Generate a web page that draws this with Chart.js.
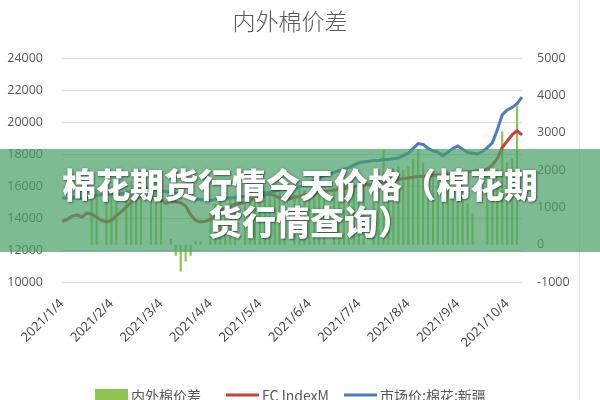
<!DOCTYPE html>
<html><head><meta charset="utf-8">
<script src="https://cdn.jsdelivr.net/npm/chart.js@4.4.0/dist/chart.umd.min.js"></script>
<style>
html,body{margin:0;padding:0;background:#fff;}
#wrap{position:relative;width:600px;height:400px;overflow:hidden;background:#fff;}
#title{position:absolute;left:0;top:5px;width:580px;text-align:center;font-family:'Noto Sans CJK SC',sans-serif;font-weight:300;font-size:23px;color:#595959;line-height:30px;}
#banner{position:absolute;left:0;top:149px;width:600px;height:103px;background:rgba(70,160,100,0.7);color:#fff;text-align:center;font-family:'Noto Sans CJK SC',sans-serif;font-weight:900;font-size:34px;line-height:37px;padding-top:16px;box-sizing:border-box;text-shadow:1px 1px 2px rgba(0,0,0,0.45),0 0 3px rgba(0,0,0,0.25);}
#edge{position:absolute;left:579px;top:0;width:1px;height:400px;background:#e3e3e3;}
</style></head>
<body><div id="wrap"><canvas id="c" width="600" height="400"></canvas>
<div id="title">内外棉价差</div>
<div id="edge"></div>
<div id="banner">棉花期货行情今天价格（棉花期<br><span style="position:relative;left:10px">货行情查询）</span></div>
</div>
<script>
// categories: trading dates (about every 3 days), month ticks on the 4th
const months = [1,2,3,4,5,6,7,8,9,10];
const days = [4,7,10,13,16,19,21,24,26,28];
const octDays = [4,7,10,13];
const categories = [];
months.forEach(m => (m === 10 ? octDays : days).forEach(d => categories.push('2021/' + m + '/' + d)));

// 内外棉价差 (right axis)
const spread = [
  null,null,null,null,null,null,1500,1450,null,1600,
  1550,1300,null,1500,1700,1800,1850,null,1700,1650,
  1600,null,150,-300,-720,-450,-300,100,80,null,
  900,1100,1200,1000,1300,1250,null,1100,1300,1400,
  1350,1450,1300,1500,1400,1200,null,1350,1500,1450,
  1400,1550,1600,1450,null,1500,1700,1650,1550,1600,
  1650,1700,null,1750,1800,2550,1900,2050,2100,2000,
  2100,2300,2550,2200,1950,1800,1700,1500,1600,1450,
  1400,1300,1100,830,null,null,1950,1800,2000,3030,
  2200,2300,3700,null
];
// FC IndexM (left axis)
const fcIndexM = [
  13800,13900,14100,14200,14050,14300,14250,14050,13850,13750,
  13850,14150,14400,14700,15000,15250,15350,15350,15300,15250,
  15150,14900,15050,15000,14950,14750,14200,13850,13750,13800,
  13900,14100,14400,14600,14750,14850,14900,15000,15100,15200,
  15300,15450,15500,15400,15250,15150,15200,15300,15350,15450,
  15500,15550,15600,15650,15700,15750,15800,15850,15900,15950,
  16000,16050,16100,16100,16200,16250,16300,16350,16400,16450,
  16500,16550,16600,16600,16650,16650,16700,16700,16750,16800,
  16850,16850,16900,16900,16950,17000,17050,17300,17700,18400,
  18800,19200,19450,19200
];
// 市场价:棉花:新疆 (left axis)
const xinjiang = [
  15250,15230,15260,15250,15240,15280,15350,15420,15450,15460,
  15480,15500,15520,15600,15700,15750,15800,15850,15800,15750,
  15700,15650,15600,15550,15500,15400,15300,15200,15150,15100,
  15100,15150,15200,15250,15250,15300,15350,15350,15400,15450,
  15500,15550,15600,15700,15750,15800,15850,15900,15950,16050,
  16200,16350,16500,16650,16750,16850,16950,17050,17150,17300,
  17450,17500,17550,17600,17600,17650,17650,17700,17750,17900,
  18050,18350,18650,18600,18350,18200,18100,17900,18100,18350,
  18500,18300,18100,18050,18000,18150,18400,18700,19500,20450,
  20750,20900,21150,21550
];
const leftTicks = [10000,24000,2000];
const rightTicks = [-1000,5000,1000];

const GREEN = '#8fc552', RED = '#d03b3b', BLUE = '#4a7cc4';

const legendPlugin = {
  id: 'customLegend',
  afterDraw(chart) {
    const ctx = chart.ctx;
    const pos = [95, 226, 344];
    ctx.save();
    chart.data.datasets.forEach((ds, i) => {
      const x = pos[i], y = 395;
      if (ds.type === 'bar') {
        ctx.fillStyle = ds.backgroundColor;
        ctx.fillRect(x, y - 6, 33, 12);
      } else {
        ctx.strokeStyle = ds.borderColor;
        ctx.lineWidth = 3;
        ctx.beginPath(); ctx.moveTo(x, y); ctx.lineTo(x + 33, y); ctx.stroke();
      }
      ctx.fillStyle = '#595959';
      ctx.font = "14px 'Noto Sans CJK SC', sans-serif";
      ctx.textBaseline = 'middle';
      ctx.textAlign = 'left';
      ctx.fillText(ds.label, x + 36, y + 1);
    });
    ctx.restore();
  }
};

Chart.defaults.font.family = "'Open Sans', 'Noto Sans CJK SC', sans-serif";
Chart.defaults.color = '#595959';

new Chart(document.getElementById('c'), {
  data: {
    labels: categories,
    datasets: [
      { type: 'bar', label: '内外棉价差', data: spread, yAxisID: 'y1', backgroundColor: GREEN,
        barPercentage: 0.45, categoryPercentage: 1, order: 3 },
      { type: 'line', label: 'FC IndexM', data: fcIndexM, yAxisID: 'y', borderColor: RED, backgroundColor: RED,
        borderWidth: 3, pointRadius: 0, tension: 0, order: 2 },
      { type: 'line', label: '市场价:棉花:新疆', data: xinjiang, yAxisID: 'y', borderColor: BLUE, backgroundColor: BLUE,
        borderWidth: 3, pointRadius: 0, tension: 0, order: 1 }
    ]
  },
  options: {
    responsive: false, animation: false, devicePixelRatio: 1,
    layout: { padding: { top: 58, left: 0, right: 0, bottom: 0 } },
    plugins: { legend: { display: false }, title: { display: false }, tooltip: { enabled: false } },
    scales: {
      x: {
        offset: false,
        grid: { display: false, drawTicks: false },
        border: { display: false },
        ticks: {
          autoSkip: false, maxRotation: 45, minRotation: 45, padding: 14,
          font: { size: 13 }, color: '#404040',
          callback: (v, i) => categories[i].endsWith('/4') ? categories[i] : ''
        },
        afterFit: s => { s.height = 118; }
      },
      y: {
        position: 'left', min: leftTicks[0], max: leftTicks[1],
        ticks: { stepSize: leftTicks[2], padding: 19, font: { size: 12.5 }, color: '#595959', callback: v => String(v) },
        grid: { color: '#d9d9d9', lineWidth: 1, drawTicks: false },
        border: { display: false },
        afterFit: s => { s.width = 62; }
      },
      y1: {
        position: 'right', min: rightTicks[0], max: rightTicks[1],
        ticks: { stepSize: rightTicks[2], padding: 15, font: { size: 12.5 }, color: '#595959', callback: v => String(v) },
        grid: { display: false, drawTicks: false },
        border: { display: false },
        afterFit: s => { s.width = 78; }
      }
    }
  },
  plugins: [legendPlugin]
});
</script>
</body></html>
